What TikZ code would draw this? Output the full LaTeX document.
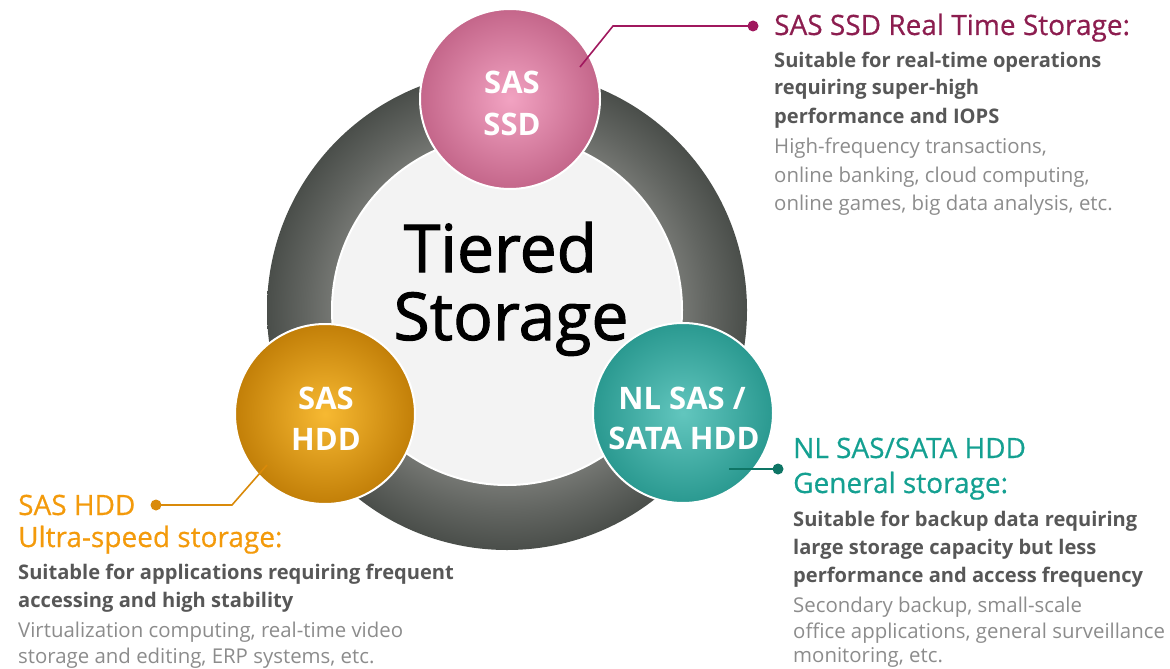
\documentclass[tikz,border=0pt]{standalone}
\usepackage{fontspec}
\setmainfont{Open Sans}
\newfontfamily\heavyfont{Open Sans}[FakeBold=1.6]
\newfontfamily\titlefont{Open Sans}[FakeBold=0.5]
\definecolor{ssdT}{HTML}{8C1D4F}
\definecolor{ssdL}{HTML}{A0185E}
\definecolor{ssdC}{HTML}{F2A3C2}
\definecolor{ssdE}{HTML}{C4668A}
\definecolor{nlT}{HTML}{14A091}
\definecolor{nlL}{HTML}{0E7565}
\definecolor{nlC}{HTML}{62C6BE}
\definecolor{nlE}{HTML}{2A9990}
\definecolor{hddT}{HTML}{F39A0B}
\definecolor{hddL}{HTML}{D98A0A}
\definecolor{hddC}{HTML}{F7B932}
\definecolor{hddE}{HTML}{C27F08}
\definecolor{bodyG}{HTML}{575757}
\definecolor{detG}{HTML}{8C8C8C}
\definecolor{ringL}{HTML}{767874}
\definecolor{ringM}{HTML}{626561}
\definecolor{ringD}{HTML}{4A4E4A}
\definecolor{innerF}{HTML}{F3F3F3}
\pgfdeclareradialshading{ringshade}{\pgfpoint{0bp}{0bp}}{color(0bp)=(ringL); color(18bp)=(ringL); color(21bp)=(ringM); color(25bp)=(ringD); color(50bp)=(ringD)}
\tikzset{
  tier/.style={circle, minimum size=180pt, inner sep=0pt, draw=white, line width=2pt},
  tlab/.style={anchor=base, inner sep=0pt, text=white, font=\fontsize{31}{41}\selectfont\bfseries},
  clab/.style={anchor=base, inner sep=0pt, font=\fontsize{66}{66}\selectfont\heavyfont},
  ttl/.style={anchor=base west, inner sep=0pt, font=\fontsize{28}{34}\selectfont\titlefont},
  bdy/.style={anchor=base west, inner sep=0pt, text=bodyG, font=\fontsize{20.1}{28}\selectfont\bfseries},
  dtl/.style={anchor=base west, inner sep=0pt, text=detG, font=\fontsize{20.4}{28}\selectfont},
  conn/.style={line width=1.6pt},
  dot/.style={circle, inner sep=0pt, minimum size=11pt}
}
\begin{document}
\begin{tikzpicture}[x=1pt,y=-1pt]
\useasboundingbox (0,0) rectangle (1170,669);
% ring
\path[shading=ringshade] (507,310) circle (240);
\node[circle, minimum size=350pt, inner sep=0pt, fill=innerF, draw=white, line width=2pt] (inner) at (507,310) {};
\node[clab] (center1) at (500.5,272) {Tiered};
\node[clab] (center2) at (511,340) {Storage};
% tier circles
\node[tier, shade, inner color=ssdC, outer color=ssdE] (ssd) at (510,99) {};
\node[tier, shade, inner color=hddC, outer color=hddE] (hdd) at (325,414) {};
\node[tier, shade, inner color=nlC, outer color=nlE] (nl) at (683,413) {};
\node[tlab] (ssd1) at (512,93) {SAS};
\node[tlab] (ssd2) at (512,135) {SSD};
\node[tlab] (hdd1) at (326,409) {SAS};
\node[tlab] (hdd2) at (326,450) {HDD};
\node[tlab] (nl1) at (682,409) {NL SAS /};
\node[tlab] (nl2) at (684,449) {SATA HDD};
% connectors
\coordinate (ssdS) at (580,67);
\coordinate (ssdK) at (613,26);
\node[dot, fill=ssdL] (ssdD) at (753,26) {};
\draw[conn, ssdL] (ssdS) -- (ssdK) -- (ssdD.center);
\coordinate (nlS) at (729,469);
\node[dot, fill=nlL] (nlD) at (778,469) {};
\draw[conn, nlL] (nlS) -- (nlD.center);
\coordinate (hddS) at (267,465);
\coordinate (hddK) at (232,505);
\node[dot, fill=hddL] (hddD) at (156,505) {};
\draw[conn, hddL] (hddS) -- (hddK) -- (hddD.center);
% top right text
\node[ttl, text=ssdT] (a1) at (774,35) {SAS SSD Real Time Storage:};
\node[bdy] (a2) at (774,67) {Suitable for real-time operations};
\node[bdy] (a3) at (774,95) {requiring super-high};
\node[bdy] (a4) at (774,123) {performance and IOPS};
\node[dtl] (a5) at (774,153) {High-frequency transactions,};
\node[dtl] (a6) at (774,182) {online banking, cloud computing,};
\node[dtl] (a7) at (774,210) {online games, big data analysis, etc.};
% bottom right text
\node[ttl, text=nlT] (b1) at (793,458) {NL SAS/SATA HDD};
\node[ttl, text=nlT] (b2) at (793,493) {General storage:};
\node[bdy] (b3) at (793,526) {Suitable for backup data requiring};
\node[bdy] (b4) at (793,554) {large storage capacity but less};
\node[bdy] (b5) at (793,582) {performance and access frequency};
\node[dtl] (b6) at (793,612) {Secondary backup, small-scale};
\node[dtl] (b7) at (793,638) {office applications, general surveillance};
\node[dtl] (b8) at (793,662) {monitoring, etc.};
% left text
\node[ttl, text=hddT] (c1) at (18,515) {SAS HDD};
\node[ttl, text=hddT] (c2) at (18,547) {Ultra-speed storage:};
\node[bdy] (c3) at (18,579) {Suitable for applications requiring frequent};
\node[bdy] (c4) at (18,607) {accessing and high stability};
\node[dtl] (c5) at (18,637) {Virtualization computing, real-time video};
\node[dtl] (c6) at (18,663) {storage and editing, ERP systems, etc.};
\end{tikzpicture}
\end{document}
